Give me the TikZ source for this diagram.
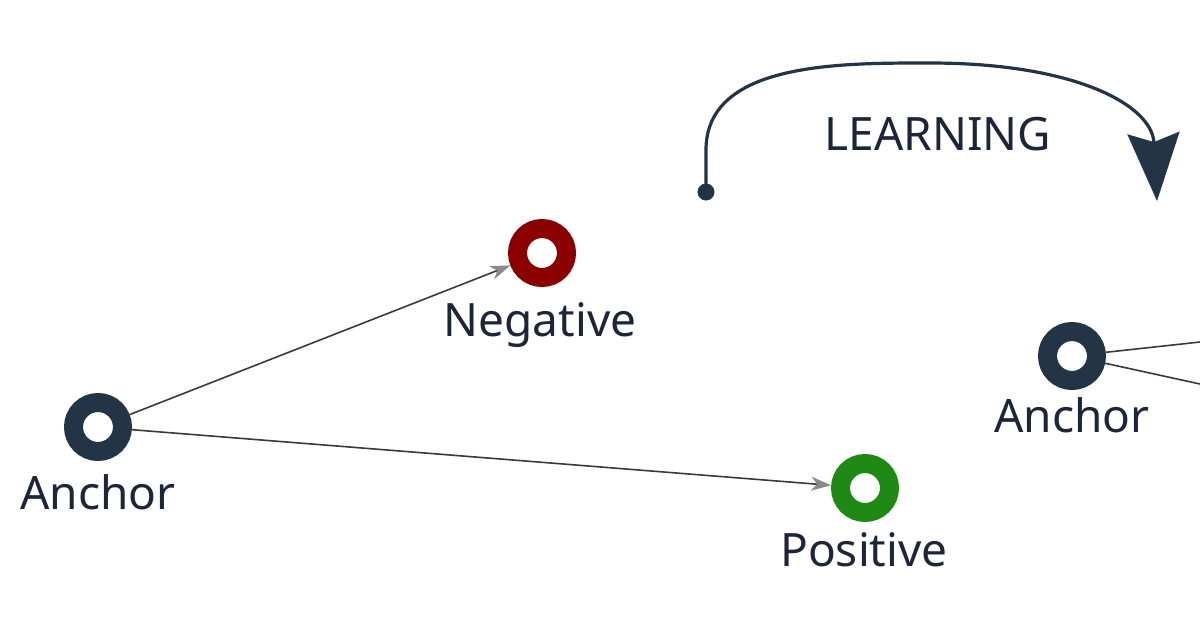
\documentclass[tikz,border=0pt]{standalone}
\usepackage{fontspec}
\setmainfont{Noto Sans}
\usetikzlibrary{arrows.meta}
\definecolor{navy}{HTML}{233447}
\definecolor{txt}{HTML}{1C2638}
\definecolor{negred}{HTML}{8B0000}
\definecolor{posgreen}{HTML}{1E8A14}
\definecolor{edgegray}{HTML}{3A3A3A}
\definecolor{tipgray}{HTML}{8A8A8A}
\tikzset{
  ring/.style={circle, draw=#1, line width=19pt, minimum size=49pt, inner sep=0pt, fill=white},
  lbl/.style={anchor=base, text=txt, font=\fontsize{46}{50}\selectfont, inner sep=0pt},
  link/.style={draw=edgegray, line width=1.6pt},
  linkarrow/.style={link, -{Stealth[length=20pt,width=14pt,inset=6pt,color=tipgray]}},
  learn/.style={draw=navy, line width=3.2pt, -{Stealth[length=68pt,width=52pt,inset=9pt]}},
}
\begin{document}
\begin{tikzpicture}[x=1pt,y=-1pt]
\useasboundingbox[fill=white] (0,0) rectangle (1200,630);
% rings
\node[ring=navy] (a1) at (98,427) {};
\node[ring=negred] (neg) at (542,253) {};
\node[ring=posgreen] (pos) at (865,488) {};
\node[ring=navy] (a2) at (1072,356) {};
% labels
\node[lbl] (la1) at (98,509) {Anchor};
\node[lbl] (lneg) at (540,336) {Negative};
\node[lbl] (lpos) at (864,566) {Positive};
\node[lbl] (la2) at (1072,432) {Anchor};
\node[lbl] (llearn) at (938,150) {LEARNING};
% connectors
\draw[linkarrow] (a1) -- (neg);
\draw[linkarrow] (a1) -- (pos);
\coordinate (e1) at (1200,342);
\coordinate (e2) at (1200,384);
\draw[link] (a2) -- (e1);
\draw[link] (a2) -- (e2);
% learning arc
\node[circle, fill=navy, minimum size=17pt, inner sep=0pt] (dot) at (706,192) {};
\coordinate (tip) at (1157,201);
\draw[learn] (dot.center) -- (706,150) .. controls (706,62) and (840,63) .. (930,63)
  .. controls (1075,63) and (1152,105) .. (tip);
\end{tikzpicture}
\end{document}
